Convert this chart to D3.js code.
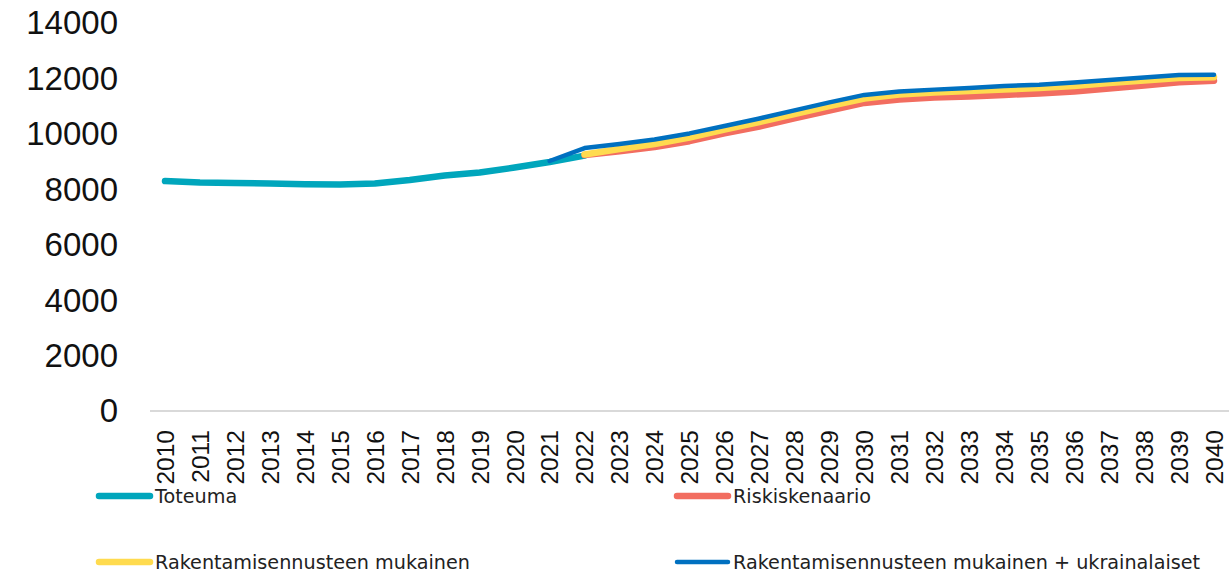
<!DOCTYPE html>
<html>
<head>
    <meta charset="utf-8">
    <title>Väestökehitys</title>
    <script src="https://d3js.org/d3.v7.min.js"></script>
    <style>
        body { margin: 0; background: #fff; }
        svg { display: block; font-family: "DejaVu Sans", sans-serif; }
        .y-axis text { font-size: 33px; fill: #111; }
        .x-axis text { font-size: 24.5px; fill: #111; }
        .legend text { font-size: 19.2px; fill: #222; }
        .series path { fill: none; stroke-linecap: round; stroke-linejoin: round; }
    </style>
</head>
<body>
    <svg width="1229" height="574"></svg>

    <script>
        // data
        const years = d3.range(2010, 2041);
        const yTicks = [0, 2000, 4000, 6000, 8000, 10000, 12000, 14000];

        const toteumaYears = d3.range(2010, 2023);
        const toteuma = [8260, 8210, 8190, 8170, 8150, 8140, 8170, 8300, 8460, 8570, 8750, 8950, 9180];

        const riskiYears = d3.range(2022, 2041);
        const riski = [9200, 9340, 9490, 9700, 9980, 10230, 10520, 10800, 11080, 11200,
                       11280, 11310, 11370, 11420, 11490, 11600, 11710, 11830, 11880];

        const rakYears = d3.range(2022, 2041);
        const rak = [9220, 9420, 9600, 9830, 10120, 10390, 10680, 10970, 11240, 11380,
                     11460, 11510, 11560, 11620, 11690, 11800, 11890, 11980, 12010];

        const ukrYears = d3.range(2021, 2041);
        const ukr = [8985, 9450, 9600, 9760, 9980, 10250, 10520, 10810, 11100, 11370,
                     11490, 11560, 11620, 11690, 11740, 11820, 11910, 12000, 12090, 12100];

        const series = [
            {name: "Toteuma", x: toteumaYears, y: toteuma, color: "#00a6bc", width: 6.5},
            {name: "Riskiskenaario", x: riskiYears, y: riski, color: "#f26d60", width: 6.5},
            {name: "Rakentamisennusteen mukainen", x: rakYears, y: rak, color: "#ffdb4f", width: 6.5},
            {name: "Rakentamisennusteen mukainen + ukrainalaiset", x: ukrYears, y: ukr, color: "#0070c0", width: 4.5}
        ];

        const svg = d3.select("svg");

        const x = d3.scalePoint()
            .domain(years)
            .range([165, 1214]);

        const y = d3.scaleLinear()
            .domain([0, 14000])
            .range([410, 22]);

        // baseline
        svg.append("line")
            .attr("x1", 150).attr("x2", 1229)
            .attr("y1", y(0) + 1).attr("y2", y(0) + 1)
            .attr("stroke", "#d9d9d9")
            .attr("stroke-width", 2);

        // y axis labels
        const yAxis = svg.append("g")
            .attr("class", "y-axis")
            .attr("transform", "translate(118,0)")
            .call(d3.axisLeft(y).tickValues(yTicks).tickFormat(d3.format("d")).tickSize(0).tickPadding(0));
        yAxis.select(".domain").remove();
        yAxis.selectAll("text").attr("dy", "0.36em");

        // x axis labels
        const xAxis = svg.append("g")
            .attr("class", "x-axis")
            .attr("transform", "translate(0,430)")
            .call(d3.axisBottom(x).tickSize(0).tickPadding(0));
        xAxis.select(".domain").remove();
        xAxis.selectAll("text")
            .attr("transform", "rotate(-90)")
            .attr("text-anchor", "end")
            .attr("x", 0)
            .attr("y", 0)
            .attr("dy", "0.34em");

        // lines
        const line = d3.line()
            .x(d => x(d[0]))
            .y(d => y(d[1]));

        svg.append("g")
            .attr("class", "series")
            .selectAll("path")
            .data(series)
            .enter().append("path")
            .attr("d", s => line(d3.zip(s.x, s.y)))
            .attr("stroke", s => s.color)
            .attr("stroke-width", s => s.width);

        // legend
        const legendPos = [
            {x: 97, y: 496}, {x: 675, y: 496},
            {x: 97, y: 562}, {x: 675, y: 562}
        ];
        const legend = svg.append("g")
            .attr("class", "legend")
            .selectAll("g")
            .data(series)
            .enter().append("g")
            .attr("transform", (s, i) => `translate(${legendPos[i].x},${legendPos[i].y})`);

        legend.append("line")
            .attr("x1", 2).attr("x2", 53)
            .attr("y1", 0).attr("y2", 0)
            .attr("stroke", s => s.color)
            .attr("stroke-width", s => s.width)
            .attr("stroke-linecap", "round");

        legend.append("text")
            .attr("x", 58)
            .attr("dy", "0.36em")
            .text(s => s.name);
    </script>
</body>
</html>
